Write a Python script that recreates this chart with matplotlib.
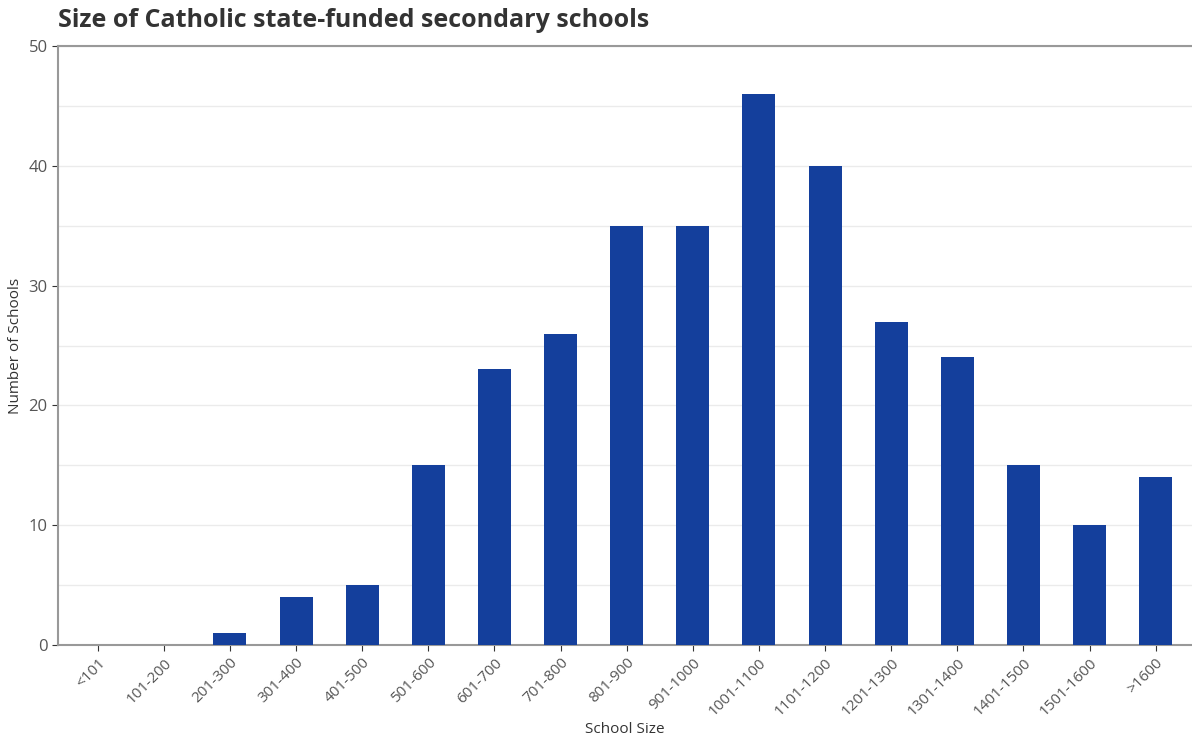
import matplotlib
matplotlib.use("Agg")
import matplotlib.pyplot as plt
from matplotlib.ticker import MultipleLocator

categories = ["<101", "101-200", "201-300", "301-400", "401-500", "501-600", "601-700",
              "701-800", "801-900", "901-1000", "1001-1100", "1101-1200", "1201-1300",
              "1301-1400", "1401-1500", "1501-1600", ">1600"]
counts = [0, 0, 1, 4, 5, 15, 23, 26, 35, 35, 46, 40, 27, 24, 15, 10, 14]

title = "Size of Catholic state-funded secondary schools"
xlabel = "School Size"
ylabel = "Number of Schools"

plt.rcParams['font.family'] = ['Open Sans', 'DejaVu Sans']

fig = plt.figure(figsize=(11.92, 7.40), dpi=100)
ax = fig.add_axes([0.0487, 0.1284, 0.9513, 0.8094])

x = list(range(len(categories)))
ax.bar(x, counts, width=0.5, color="#143F9C", zorder=3)

ax.set_xlim(-0.6, 16.55)
ax.set_ylim(0, 50)
ax.yaxis.set_major_locator(MultipleLocator(10))
ax.yaxis.set_minor_locator(MultipleLocator(5))
ax.grid(axis='y', which='both', color="#EBEBEB", linewidth=1, zorder=0)
ax.set_xticks(x)
ax.set_xticklabels(categories, rotation=45, ha='right', rotation_mode='anchor',
                   fontsize=11, color="#555555")
ax.tick_params(axis='y', labelsize=12, colors="#555555", length=4, color="#333333")
ax.tick_params(axis='x', length=4, color="#333333")
ax.tick_params(which='minor', length=0)

for s in ['left', 'bottom', 'top']:
    ax.spines[s].set_color("#999999")
    ax.spines[s].set_linewidth(1.5)
ax.spines['right'].set_visible(False)

ax.set_xlabel(xlabel, fontsize=11, color="#333333", labelpad=2)
ax.set_ylabel(ylabel, fontsize=11, color="#333333", labelpad=4)
fig.text(0.049, 0.955, title, fontsize=18, fontweight='bold', color="#333333", va='bottom')

fig.savefig("out.png", dpi=100)
